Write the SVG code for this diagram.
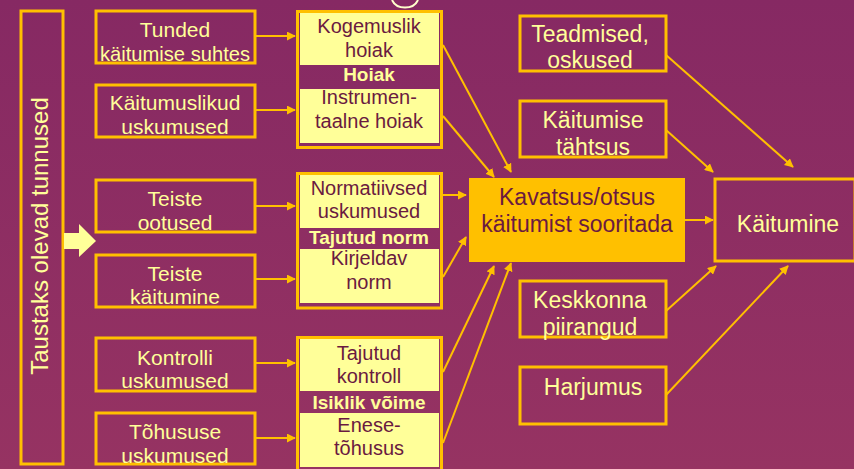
<svg xmlns="http://www.w3.org/2000/svg" width="854" height="469" viewBox="0 0 854 469">
<defs>
<linearGradient id="bg" x1="0" y1="0" x2="0" y2="1">
<stop offset="0" stop-color="#862963"/>
<stop offset="1" stop-color="#963362"/>
</linearGradient>
<marker id="ah" viewBox="0 0 10 10" refX="9" refY="5" markerWidth="4.5" markerHeight="4.5" orient="auto" markerUnits="strokeWidth">
<path d="M0,0 L10,5 L0,10 z" fill="#ffc000"/>
</marker>
<style>
.box{fill:none;stroke:#ffc000;stroke-width:3}
.inner{fill:#ffff99;stroke:none}
.lt{font-family:"Liberation Sans","DejaVu Sans",sans-serif;font-size:21px;fill:#ffff99;text-anchor:middle}
.rt{font-family:"Liberation Sans","DejaVu Sans",sans-serif;font-size:23px;fill:#ffff99;text-anchor:middle}
.dk{font-family:"Liberation Sans","DejaVu Sans",sans-serif;font-size:20px;fill:#6a1a40;text-anchor:middle}
.kv{font-family:"Liberation Sans","DejaVu Sans",sans-serif;font-size:23px;fill:#6a1a40;text-anchor:middle}
.bd{font-family:"Liberation Sans","DejaVu Sans",sans-serif;font-size:19px;font-weight:bold;fill:#ffff99;text-anchor:middle}
.c{fill:none;stroke:#ffc000;stroke-width:2;marker-end:url(#ah)}
</style>
</defs>
<rect width="854" height="469" fill="url(#bg)"/>
<path d="M392,0 A14,12 0 0 0 418,0" fill="none" stroke="#ffffcc" stroke-width="2"/>

<g id="background-vars">
<rect class="box" x="21" y="11" width="42" height="453"/>
<text class="lt" transform="translate(48,236) rotate(-90)" style="font-size:24px">Taustaks olevad tunnused</text>
</g>
<g id="big-arrow">
<path d="M64,233 L79,233 L79,224 L96,241 L79,257 L79,249 L64,249 z" fill="#ffff99"/>
</g>

<g id="tunded">
<rect class="box" x="96" y="11" width="159" height="52"/>
<text class="lt" x="175" y="37">Tunded</text>
<text class="lt" x="175" y="61" textLength="150" lengthAdjust="spacingAndGlyphs">käitumise suhtes</text>
</g>
<g id="kaitumuslikud">
<rect class="box" x="96" y="85" width="159" height="52"/>
<text class="lt" x="175" y="110">Käitumuslikud</text>
<text class="lt" x="175" y="134">uskumused</text>
</g>
<g id="teiste-ootused">
<rect class="box" x="96" y="180" width="159" height="52"/>
<text class="lt" x="175" y="206">Teiste</text>
<text class="lt" x="175" y="230">ootused</text>
</g>
<g id="teiste-kaitumine">
<rect class="box" x="96" y="255" width="159" height="52"/>
<text class="lt" x="175" y="281">Teiste</text>
<text class="lt" x="175" y="304">käitumine</text>
</g>
<g id="kontrolli">
<rect class="box" x="96" y="338" width="159" height="53"/>
<text class="lt" x="175" y="365">Kontrolli</text>
<text class="lt" x="175" y="388">uskumused</text>
</g>
<g id="tohususe">
<rect class="box" x="96" y="413" width="159" height="51"/>
<text class="lt" x="175" y="439">Tõhususe</text>
<text class="lt" x="175" y="463">uskumused</text>
</g>

<g id="hoiak">
<rect class="box" x="297.5" y="11.5" width="144" height="136"/>
<rect class="inner" x="300" y="13" width="139" height="52"/>
<rect class="inner" x="300" y="89" width="139" height="54"/>
<text class="dk" x="369" y="33">Kogemuslik</text>
<text class="dk" x="369" y="57">hoiak</text>
<text class="bd" x="369" y="81">Hoiak</text>
<text class="dk" x="369" y="104">Instrumen-</text>
<text class="dk" x="369" y="128">taalne hoiak</text>
</g>
<g id="tajutud-norm">
<rect class="box" x="297.5" y="173.5" width="144" height="134.5"/>
<rect class="inner" x="300" y="175" width="139" height="53"/>
<rect class="inner" x="300" y="249" width="139" height="54"/>
<text class="dk" x="369" y="195">Normatiivsed</text>
<text class="dk" x="369" y="218">uskumused</text>
<text class="bd" x="369" y="244">Tajutud norm</text>
<text class="dk" x="369" y="265">Kirjeldav</text>
<text class="dk" x="369" y="289">norm</text>
</g>
<g id="isiklik-voime">
<rect class="box" x="297.5" y="337.5" width="144" height="136"/>
<rect class="inner" x="300" y="339" width="139" height="52"/>
<rect class="inner" x="300" y="413" width="139" height="54"/>
<text class="dk" x="369" y="360">Tajutud</text>
<text class="dk" x="369" y="383">kontroll</text>
<text class="bd" x="369" y="409">Isiklik võime</text>
<text class="dk" x="369" y="432">Enese-</text>
<text class="dk" x="369" y="455">tõhusus</text>
</g>

<g id="kavatsus">
<rect x="469" y="178" width="216" height="84" fill="#ffc000"/>
<text class="kv" x="577" y="205">Kavatsus/otsus</text>
<text class="kv" x="577" y="232">käitumist sooritada</text>
</g>
<g id="kaitumine">
<rect class="box" x="715" y="179" width="140" height="82"/>
<text class="rt" x="788" y="232">Käitumine</text>
</g>
<g id="teadmised">
<rect class="box" x="520" y="16" width="146" height="55"/>
<text class="rt" x="590" y="42">Teadmised,</text>
<text class="rt" x="590" y="68">oskused</text>
</g>
<g id="tahtsus">
<rect class="box" x="520" y="101" width="146" height="56"/>
<text class="rt" x="593" y="128">Käitumise</text>
<text class="rt" x="593" y="155">tähtsus</text>
</g>
<g id="keskkonna">
<rect class="box" x="520" y="281" width="146" height="56"/>
<text class="rt" x="590" y="308">Keskkonna</text>
<text class="rt" x="590" y="335">piirangud</text>
</g>
<g id="harjumus">
<rect class="box" x="520" y="367" width="146" height="57"/>
<text class="rt" x="593" y="395">Harjumus</text>
</g>

<g id="connectors">
<line class="c" x1="255" y1="36" x2="295" y2="36"/>
<line class="c" x1="255" y1="110" x2="295" y2="110"/>
<line class="c" x1="255" y1="206" x2="295" y2="206"/>
<line class="c" x1="255" y1="279" x2="295" y2="279"/>
<line class="c" x1="255" y1="363" x2="295" y2="363"/>
<line class="c" x1="255" y1="438" x2="295" y2="438"/>
<line class="c" x1="443" y1="45" x2="511" y2="172"/>
<line class="c" x1="443" y1="116" x2="494" y2="177"/>
<line class="c" x1="443" y1="195" x2="466" y2="195"/>
<line class="c" x1="443" y1="277" x2="466" y2="237"/>
<line class="c" x1="443" y1="372" x2="494" y2="266"/>
<line class="c" x1="443" y1="443" x2="511" y2="263"/>
<line class="c" x1="685" y1="220" x2="713" y2="220"/>
<line class="c" x1="666" y1="55" x2="793" y2="167"/>
<line class="c" x1="666" y1="130" x2="713" y2="172"/>
<line class="c" x1="666" y1="311" x2="716" y2="266"/>
<line class="c" x1="666" y1="395" x2="788" y2="266"/>
</g>
</svg>
